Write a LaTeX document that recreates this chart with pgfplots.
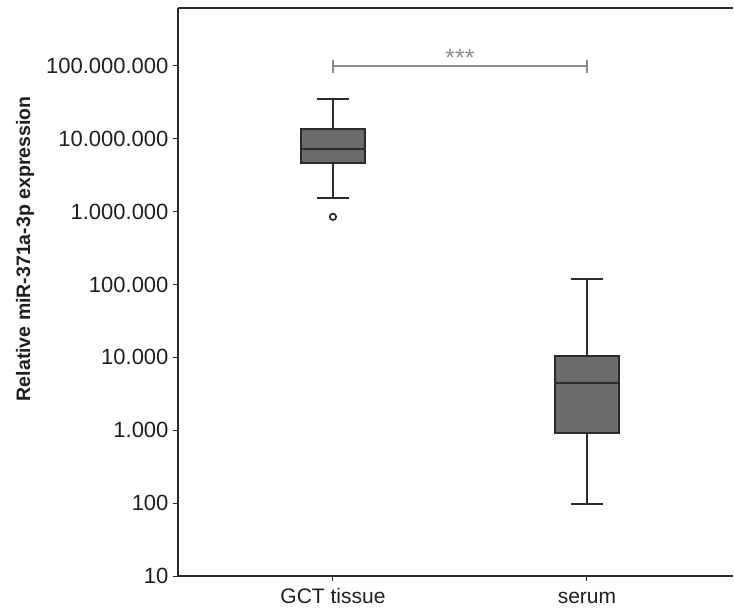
\documentclass[border=0pt]{standalone}
\usepackage{fontspec}
\setmainfont{Liberation Sans}
\usepackage{pgfplots}
\pgfplotsset{compat=1.18}

\definecolor{boxfill}{HTML}{6B6B6B}
\definecolor{boxline}{HTML}{2B2B2B}
\definecolor{sigline}{HTML}{8E8E8E}

% box plots drawn by hand: whisker, caps, box (Q1-Q3), median
\pgfplotsset{
  whisk/.style={draw=boxline, line width=2pt, mark=none},
  boxst/.style={draw=boxline, fill=boxfill, line width=2pt, mark=none},
}

\begin{document}
\begin{tikzpicture}
\begin{axis}[
    scale only axis,
    width=555pt, height=568pt,
    ymode=log,
    ymin=10, ymax=6.25e8,
    xmin=0.39, xmax=2.575,
    axis x line*=box, axis y line*=left,
    axis line style={-, line width=1.6pt, draw=boxline},
    xtick={1,2},
    xticklabels={GCT tissue, serum},
    ytick={10,100,1000,10000,100000,1000000,10000000,100000000},
    yticklabels={10,100,1.000,10.000,100.000,1.000.000,10.000.000,100.000.000},
    yminorticks=false,
    xtick pos=left, ytick pos=left,
    tick align=outside,
    major tick length=5pt,
    tick style={line width=1pt, draw=boxline},
    yticklabel style={font=\fontsize{22}{24}\selectfont, text=black!88, xshift=-1pt},
    xticklabel style={font=\fontsize{21}{24}\selectfont, text=black!88,
        text height=15pt, text depth=4pt, yshift=-4pt},
    ylabel={Relative miR-371a-3p expression},
    every axis y label/.style={at={(axis description cs:-0.2757,0.576)}, rotate=90, anchor=center,
        font=\fontsize{19.5}{22}\selectfont\bfseries, text=black!88},
]
% GCT tissue: whiskers 1.55e6 / 3.52e7, quartiles 4.67e6 / 1.37e7, median 7.26e6
\addplot[whisk] coordinates {(1,1.55e6) (1,3.52e7)};
\addplot[whisk] coordinates {(0.937,1.55e6) (1.063,1.55e6)};
\addplot[whisk] coordinates {(0.937,3.52e7) (1.063,3.52e7)};
\addplot[boxst] coordinates {(0.874,4.67e6) (1.126,4.67e6) (1.126,1.37e7) (0.874,1.37e7)} -- cycle;
\addplot[whisk] coordinates {(0.874,7.26e6) (1.126,7.26e6)};
\addplot[only marks, mark=o, mark size=3.2pt, mark options={draw=boxline, line width=1.7pt, fill=none}]
    coordinates {(1,8.5e5)};
% serum: whiskers 96 / 1.2e5, quartiles 925 / 1.05e4, median 4490
\addplot[whisk] coordinates {(2,96) (2,1.2e5)};
\addplot[whisk] coordinates {(1.937,96) (2.063,96)};
\addplot[whisk] coordinates {(1.937,1.2e5) (2.063,1.2e5)};
\addplot[boxst] coordinates {(1.874,925) (2.126,925) (2.126,1.05e4) (1.874,1.05e4)} -- cycle;
\addplot[whisk] coordinates {(1.874,4490) (2.126,4490)};
% significance bracket
\draw[sigline, line width=1.3pt] (axis cs:1,1e8) -- (axis cs:2,1e8);
\draw[sigline, line width=1.3pt] (axis cs:1,1.22e8) -- (axis cs:1,0.8e8);
\draw[sigline, line width=1.3pt] (axis cs:2,1.22e8) -- (axis cs:2,0.8e8);
\node[text=sigline, font=\fontsize{25}{25}\selectfont, anchor=base, inner sep=0pt, yshift=-1pt]
    at (axis cs:1.5,1e8) {***};
\coordinate (bl) at (rel axis cs:0,0);
\coordinate (tr) at (rel axis cs:1,1);
\end{axis}
\pgfresetboundingbox
\path[use as bounding box] ([shift={(-178pt,-35pt)}]bl) rectangle ([shift={(1pt,8pt)}]tr);
\end{tikzpicture}
\end{document}
